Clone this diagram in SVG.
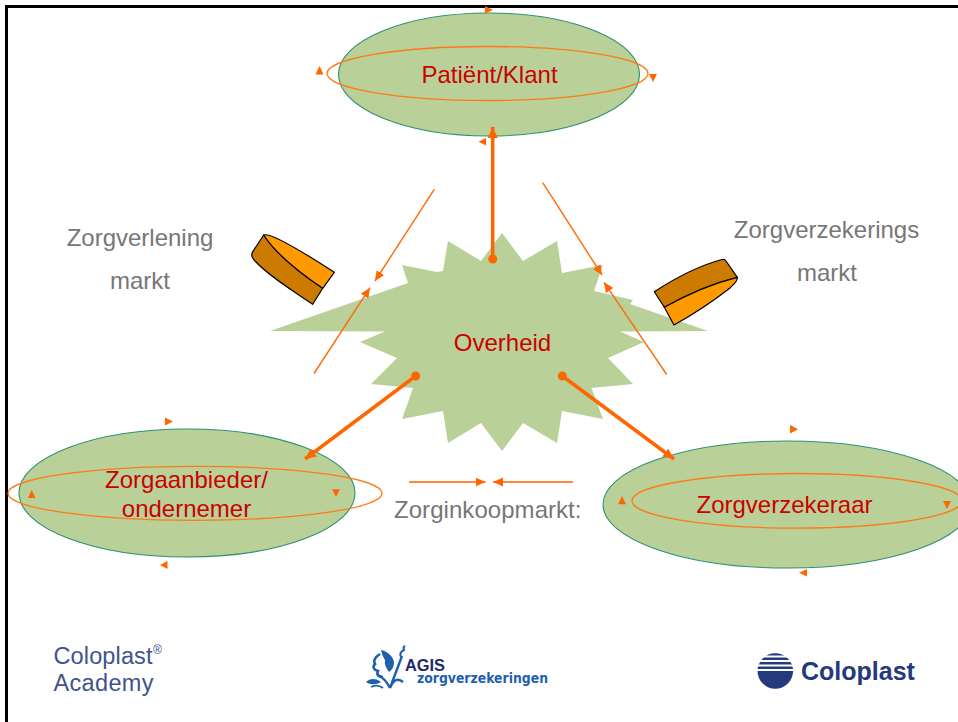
<svg xmlns="http://www.w3.org/2000/svg" width="958" height="722" viewBox="0 0 958 722">
<style>
text{font-family:"Liberation Sans",Arial,sans-serif}
.n{font-size:24px;fill:#cc0000}
.g{font-size:24px;fill:#777777}
.oval{fill:#b9d098;stroke:#2e9070;stroke-width:1.1}
.ring{fill:none;stroke:#ff7a14;stroke-width:1.3}
.tip{fill:#ff6600}
.thin{fill:none;stroke:#ff6a0a;stroke-width:1.4}
.thick{fill:none;stroke:#ff6600;stroke-width:3.5}
.flat{fill:none;stroke:#ff8a3c;stroke-width:1.8}
.cyl{stroke:#000;stroke-width:1.2;stroke-linejoin:round}
</style>
<defs>
<marker id="a1" markerUnits="userSpaceOnUse" markerWidth="12" markerHeight="10" refX="10" refY="4.5" orient="auto"><path d="M0 0L10 4.5L0 9Z" fill="#ff6600"/></marker>
<marker id="a2" markerUnits="userSpaceOnUse" markerWidth="12" markerHeight="12" refX="11" refY="5" orient="auto"><path d="M0 0L11 5L0 10Z" fill="#ff6600"/></marker>
</defs>
<rect width="958" height="722" fill="#fff"/>
<path d="M6.500 722V6.500H958" fill="none" stroke="#000" stroke-width="3"/>

<g id="node-overheid">
<polygon fill="#b9d098" points="502,233 523,261 557,241 562,273 603,265 594,291 633,300 630,304 708,331 620,331.500 644,342 608,358 633,384 591.500,388 603,419 562,411 557,443 523,423 502,451 481,423 448,443 443,411 402,419 413,388 371,384 397,358 360,342 385,331.500 270,331 408,283 402,265 437,272 443,271 448,241 481,261"/>
<text class="n" x="502.500" y="351" text-anchor="middle">Overheid</text>
</g>

<g id="node-patient">
<ellipse class="oval" cx="489" cy="74.500" rx="150.500" ry="61.500"/>
<ellipse class="ring" cx="487.500" cy="73.500" rx="160.500" ry="27"/>
<text class="n" x="489.500" y="83" text-anchor="middle">Patiënt/Klant</text>
<path class="tip" d="M485 6L493 10L485 13.500Z M319.500 66L323.500 74.500H315.500Z M649 74H657L653 82Z M478.500 141.700L486 138V145.500Z"/>
</g>

<g id="node-zorgaanbieder">
<ellipse class="oval" cx="187" cy="493" rx="168" ry="64"/>
<ellipse class="ring" cx="195" cy="493.300" rx="187" ry="27"/>
<text class="n" x="186.500" y="488" text-anchor="middle">Zorgaanbieder/</text>
<text class="n" x="186.500" y="517" text-anchor="middle">ondernemer</text>
<path class="tip" d="M165 417.500L173 421.500L165 425.500Z M160 565L167.500 561V569Z M31.700 490L35.500 498H28Z M332 489.300H340L336 497Z"/>
</g>

<g id="node-zorgverzekeraar">
<ellipse class="oval" cx="787" cy="504.500" rx="184" ry="63.500"/>
<ellipse class="ring" cx="797" cy="500.800" rx="165" ry="27.300"/>
<text class="n" x="784.500" y="513" text-anchor="middle">Zorgverzekeraar</text>
<path class="tip" d="M790 425L798 429.300L790 433.500Z M799 572.700L807 569V576.500Z M622 496L626 504.300H618Z M943 501H951L947 509Z"/>
</g>

<g id="connectors">
<line class="thick" x1="492.700" y1="259" x2="492.700" y2="127" marker-end="url(#a2)"/>
<circle class="tip" cx="492.700" cy="259" r="4.500"/>
<line class="thick" x1="415.700" y1="376" x2="305" y2="459" marker-end="url(#a2)"/>
<circle class="tip" cx="415.700" cy="376" r="4.500"/>
<line class="thick" x1="562.300" y1="376" x2="674" y2="459" marker-end="url(#a2)"/>
<circle class="tip" cx="562.300" cy="376" r="4.500"/>
<line class="thin" x1="434.300" y1="189.300" x2="375" y2="281" marker-end="url(#a1)"/>
<line class="thin" x1="314" y1="373.500" x2="370" y2="287.700" marker-end="url(#a1)"/>
<line class="thin" x1="542.700" y1="182.700" x2="602" y2="275" marker-end="url(#a1)"/>
<line class="thin" x1="666.700" y1="374.500" x2="604" y2="282.300" marker-end="url(#a1)"/>
<line class="flat" x1="409" y1="482" x2="485.500" y2="482" marker-end="url(#a1)"/>
<line class="flat" x1="573" y1="482" x2="493" y2="482" marker-end="url(#a1)"/>
</g>

<g id="cylinder-left">
<path class="cyl" fill="#cc7a00" d="M263.700 235L252.300 252.300C251 256 252 258 256 262C270 277 292 290 312.700 304.300L322.700 288.300C300 273 276 254 263.700 235Z"/>
<path class="cyl" fill="#ff9900" d="M263.700 235C270 232 300 250 334.300 272.300L322.700 288.300C300 273 276 254 263.700 235Z"/>
</g>
<g id="cylinder-right">
<path class="cyl" fill="#cc7a00" d="M654.300 291.700C680 275 705 264 722 259.500Q725 259 726 261L737.300 277.300C710 284 688 294 664.300 307.300Z"/>
<path class="cyl" fill="#ff9900" d="M664.300 307.300C688 294 710 284 737.300 277.300C738 281 734 284 730 288C712 302 694 314 674 325Z"/>
</g>

<g id="labels">
<text class="g" x="140" y="246" text-anchor="middle">Zorgverlening</text>
<text class="g" x="140" y="289" text-anchor="middle">markt</text>
<text class="g" x="826.500" y="238" text-anchor="middle">Zorgverzekerings</text>
<text class="g" x="827" y="281" text-anchor="middle">markt</text>
<text class="g" x="394" y="517.500" textLength="187.500">Zorginkoopmarkt:</text>
</g>

<g id="logo-academy">
<text x="53.500" y="663.500" font-size="23.500" fill="#41538f" textLength="99">Coloplast</text>
<text x="53.500" y="691" font-size="23.500" fill="#41538f" textLength="100">Academy</text>
<text x="153" y="654" font-size="12" fill="#41538f">®</text>
</g>

<g id="logo-agis">
<path fill="#1f5fb0" d="M381 650C387 651 393 656 394 662C394 667 392 670 389 672C386 668 384 664 385 660C383 657 382 654 381 650Z"/>
<path fill="none" stroke="#1f5fb0" stroke-width="2.600" d="M380 654C375 657 373 661 375 664C372 667 374 670 378 671C376 675 379 677 383 677"/>
<path fill="none" stroke="#1f5fb0" stroke-width="2.400" d="M390 688L402 656M390 688C387 682 384 678 378 675M390 688C393 681 397 677 403 682"/>
<path fill="none" stroke="#1f5fb0" stroke-width="2" d="M401 657C399 653 402 651 404 650C403 648 403 647 405 646"/>
<path fill="#1f5fb0" d="M366 682C370 678 376 678 381 682C376 685 370 685 366 682Z"/>
<path fill="none" stroke="#1f5fb0" stroke-width="1.800" d="M371 687C375 685 379 685 383 688"/>
<text x="405" y="671" font-size="17" font-weight="700" fill="#1f2a6b" textLength="40" lengthAdjust="spacingAndGlyphs">AGIS</text>
<text x="417" y="683" font-size="14" font-weight="700" fill="#1f5fb0" textLength="131" lengthAdjust="spacingAndGlyphs" style="font-family:'DejaVu Sans',sans-serif">zorgverzekeringen</text>
</g>

<g id="logo-coloplast">
<circle cx="775.300" cy="671" r="17.800" fill="#243a7c"/>
<path stroke="#fff" fill="none" d="M756 656.500H795M756 661H795M756 665.500H795M756 670H795" stroke-width="1.900"/>
<text x="801" y="679.500" font-size="25" font-weight="700" fill="#243a7c">Coloplast</text>
</g>
</svg>
